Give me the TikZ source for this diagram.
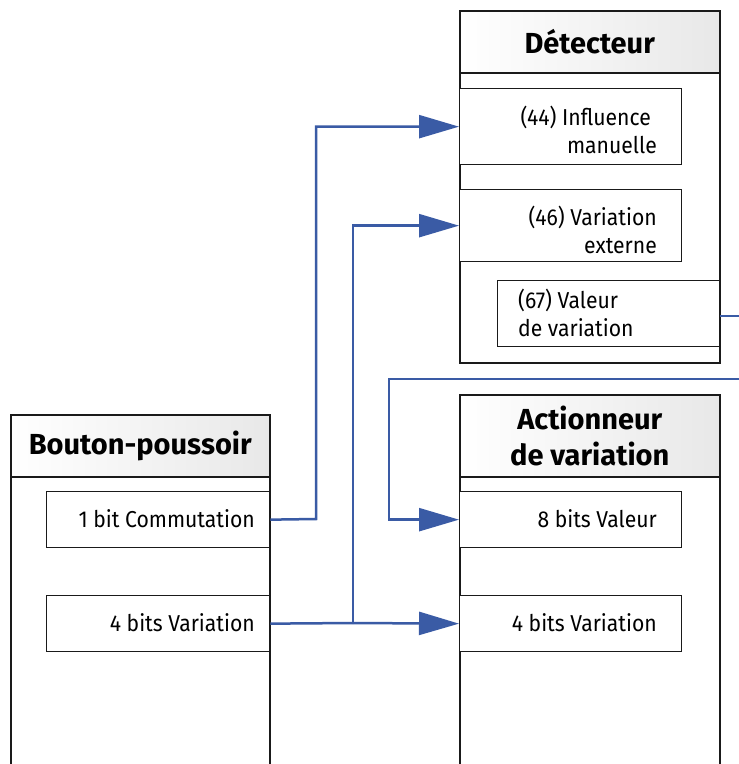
\documentclass[tikz,border=0pt]{standalone}
\usepackage{fontspec}
\setmainfont{Fira Sans}[FakeStretch=0.92]
\newfontfamily\titlefont{Fira Sans}
\usetikzlibrary{arrows.meta}
\definecolor{conn}{HTML}{3A5BA5}
\definecolor{edge}{HTML}{1A1A1A}
\tikzset{
  frame/.style={draw=edge, line width=1.5pt, fill=white, rectangle, anchor=north west, inner sep=0pt},
  head/.style={draw=edge, line width=1.5pt, rectangle, anchor=north west, inner sep=0pt, shading=axis, left color=white, right color=black!9, shading angle=90, font=\titlefont\fontsize{29}{36}\selectfont\bfseries, align=center},
  port/.style={draw=edge, line width=1.3pt, fill=white, rectangle, anchor=north west, inner sep=0pt},
  lbl/.style={inner sep=0pt, font=\fontsize{23}{28}\selectfont},
  conn/.style={draw=conn, line width=2.5pt, -{Triangle[length=40pt,width=23pt]}},
  connplain/.style={draw=conn, line width=2.5pt},
}
\begin{document}
\begin{tikzpicture}[x=1pt,y=-1pt]
\useasboundingbox (0,0) rectangle (739,764);
% Detecteur
\node[frame, minimum width=260pt, minimum height=352pt] (det) at (459,10) {};
\node[head, minimum width=260pt, minimum height=62pt] (dethead) at (459,10) {Détecteur};
\node[port, minimum width=222pt, minimum height=76pt] (inf) at (459,88) {};
\node[lbl, align=right, anchor=east] (inft) at (657,130) {(44) Influence\hspace*{6pt}\\manuelle};
\node[port, minimum width=222pt, minimum height=72pt] (varext) at (459,189) {};
\node[lbl, align=right, anchor=east] (varextt) at (657,230) {(46) Variation\\externe};
\node[port, minimum width=222pt, minimum height=66pt] (val) at (497,280) {};
\node[lbl, align=left, anchor=west] (valt) at (518,313) {(67) Valeur\\de variation};
% Actionneur
\node[frame, minimum width=260pt, minimum height=400pt] (act) at (459,394) {};
\node[head, minimum width=260pt, minimum height=82pt] (acthead) at (459,394) {Actionneur\\de variation};
\node[port, minimum width=222pt, minimum height=56pt] (v8) at (459,491) {};
\node[lbl, anchor=east] (v8t) at (657,519) {8 bits Valeur};
\node[port, minimum width=222pt, minimum height=56pt] (v4a) at (459,595) {};
\node[lbl, anchor=east] (v4at) at (657,623) {4 bits Variation};
% Bouton-poussoir
\node[frame, minimum width=259pt, minimum height=380pt] (bp) at (10,414) {};
\node[head, minimum width=259pt, minimum height=62pt] (bphead) at (10,414) {Bouton-poussoir};
\node[port, minimum width=223pt, minimum height=56pt] (c1) at (46,491) {};
\node[lbl, anchor=east] (c1t) at (255,519) {1 bit Commutation};
\node[port, minimum width=223pt, minimum height=56pt] (c4) at (46,595) {};
\node[lbl, anchor=east] (c4t) at (255,623) {4 bits Variation};
% free ends
\coordinate (o1) at (739,316);
\coordinate (o2) at (739,379);
\coordinate (j) at (353,623);
% connectors
\draw[connplain] (val.east |- o1) -- (o1);
\draw[conn] (c1.east) -- (316,519) |- (inf.west);
\draw[connplain] (c4.east) -- (j);
\draw[conn] (j) |- (varext.west);
\draw[conn] (j) -- (v4a.west);
\draw[conn] (o2) -- (389,379) |- (v8.west);
\end{tikzpicture}
\end{document}
